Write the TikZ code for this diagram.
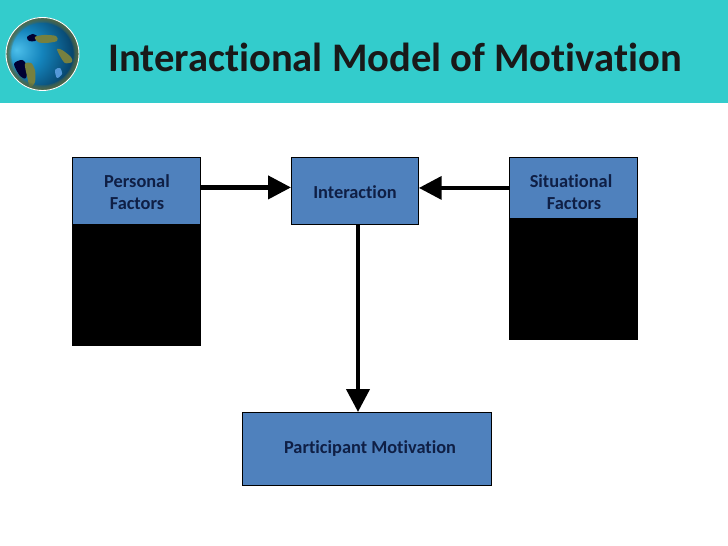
\documentclass[tikz,border=0pt]{standalone}
\usepackage{fontspec}
\setmainfont[RawFeature={-liga;-dlig;-clig}]{Carlito}
\usetikzlibrary{arrows.meta}
\definecolor{headerteal}{HTML}{33CCCC}
\definecolor{boxblue}{HTML}{4F81BD}
\definecolor{boxtext}{HTML}{0F1F45}
\definecolor{landolive}{HTML}{76803F}
\definecolor{rimolive}{HTML}{566B45}
\pgfdeclareradialshading{globeshade}{\pgfpoint{-18bp}{3bp}}{
  rgb(0bp)=(0.30,0.75,0.92);
  rgb(14bp)=(0.08,0.52,0.74);
  rgb(30bp)=(0.03,0.28,0.44);
  rgb(50bp)=(0.03,0.15,0.24);
  rgb(70bp)=(0.05,0.12,0.18)}
\tikzset{
  flowbox/.style={draw=black, line width=0.5pt, fill=boxblue, inner sep=0pt, anchor=north west},
  hiddenbox/.style={fill=black, inner sep=0pt, anchor=north west},
  boxlabel/.style={font=\bfseries\fontsize{10.45pt}{12.6pt}\selectfont, text=boxtext, align=center, inner sep=0pt},
  flowarrow/.style={line width=2.4pt, -{Triangle[length=13pt,width=13pt]}},
  land/.style={fill=landolive, draw=none}
}
\begin{document}
\begin{tikzpicture}[x=0.02cm, y=-0.02cm]
  \useasboundingbox (0,0) rectangle (728,546);
  \fill[white] (0,0) rectangle (728,546);
  \fill[headerteal] (0,0) rectangle (728,103);

  % globe
  \begin{scope}
    \clip (42.5,54) circle (36.5);
    \shade[shading=globeshade] (42.5,54) circle (36.5);
    \fill[black!80!blue] plot[smooth cycle] coordinates {(27,37) (33,34) (38,37) (35,41) (29,41)};
    \fill[black!80!blue] plot[smooth cycle] coordinates {(14,64) (22,60) (27,66) (26,78) (20,76)};
    \fill[cyan!60!blue!70!white] plot[smooth cycle] coordinates {(55,70) (60,68) (62,74) (57,78)};
    \fill[land] plot[smooth cycle] coordinates {(35,37) (44,35) (56,36) (57,41) (46,43) (38,42)};
    \fill[land] plot[smooth cycle] coordinates {(57,49) (62,50) (71,57) (72,62) (65,63) (60,56)};
    \fill[land] plot[smooth cycle] coordinates {(25,64) (31,63) (35,70) (35,82) (30,87) (27,76)};
    \foreach \w in {1,...,6}
      \draw[rimolive, opacity=0.3, line width=\w pt] (42.5,54) circle (36.5);
  \end{scope}
  \draw[white, line width=0.5pt] (42.5,54) circle (36.5);

  % title
  \node[anchor=west, inner sep=0pt, font=\bfseries\fontsize{23.1pt}{26pt}\selectfont, text=black!90] (title) at (108,57) {Interactional Model of Motivation};

  % boxes
  \node[hiddenbox, minimum width=129*0.02cm, minimum height=122*0.02cm] (personalhidden) at (72,224) {};
  \node[hiddenbox, minimum width=129*0.02cm, minimum height=122*0.02cm] (situationalhidden) at (509,218) {};
  \node[flowbox, minimum width=128*0.02cm, minimum height=67*0.02cm] (personal) at (72,157) {};
  \node[flowbox, minimum width=127*0.02cm, minimum height=67.5*0.02cm] (interaction) at (291,157) {};
  \node[flowbox, minimum width=128*0.02cm, minimum height=61*0.02cm] (situational) at (509,157) {};
  \node[flowbox, minimum width=248.5*0.02cm, minimum height=73*0.02cm] (participant) at (242,412) {};

  % labels
  \node[boxlabel] (personaltext) at (137,192) {Personal\\Factors};
  \node[boxlabel] (interactiontext) at (355,192) {Interaction};
  \node[boxlabel] (situationaltext) at (571,192) {Situational\\\hspace*{3.5pt}Factors};
  \node[boxlabel] (participanttext) at (370,448.5) {Participant Motivation};

  % arrows
  \draw[flowarrow] ([yshift=3.5*0.02cm]personal.east) -- ([yshift=3.75*0.02cm]interaction.west);
  \draw[flowarrow] (situational.west) -- ([yshift=3.25*0.02cm]interaction.east);
  \draw[flowarrow] (interaction.south -| 358,0) -- (358,412);
\end{tikzpicture}
\end{document}
